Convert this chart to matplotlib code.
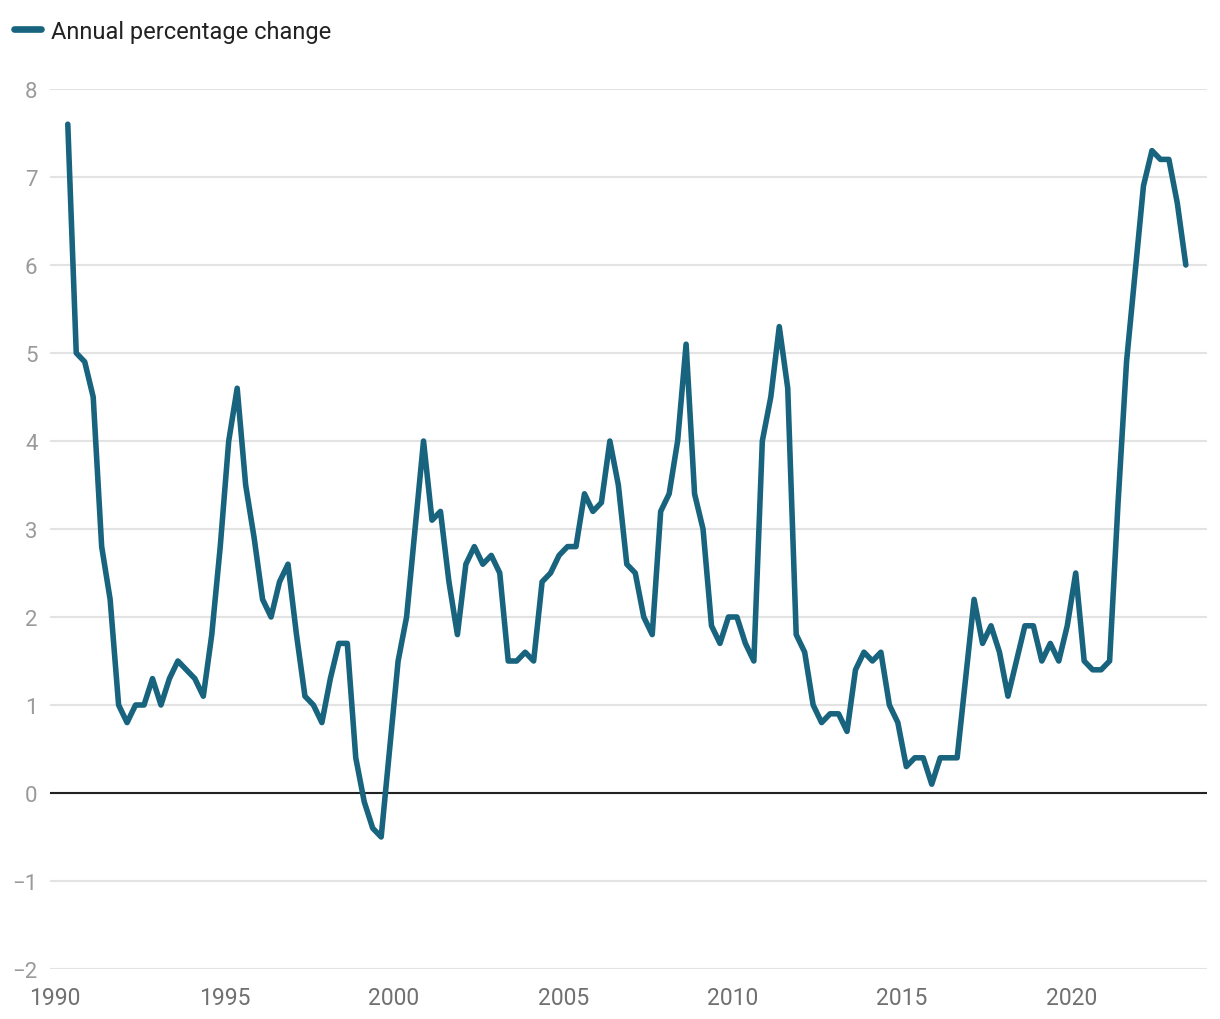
import matplotlib
matplotlib.use("Agg")
import matplotlib.pyplot as plt

# Quarterly data, first quarter 1990 Q2, last quarter 2023 Q2
start_year = 1990.375
values = [
    7.6, 5.0, 4.9, 4.5, 2.8, 2.2, 1.0, 0.8, 1.0, 1.0,
    1.3, 1.0, 1.3, 1.5, 1.4, 1.3, 1.1, 1.8, 2.8, 4.0,
    4.6, 3.5, 2.9, 2.2, 2.0, 2.4, 2.6, 1.8, 1.1, 1.0,
    0.8, 1.3, 1.7, 1.7, 0.4, -0.1, -0.4, -0.5, 0.5, 1.5,
    2.0, 3.0, 4.0, 3.1, 3.2, 2.4, 1.8, 2.6, 2.8, 2.6,
    2.7, 2.5, 1.5, 1.5, 1.6, 1.5, 2.4, 2.5, 2.7, 2.8,
    2.8, 3.4, 3.2, 3.3, 4.0, 3.5, 2.6, 2.5, 2.0, 1.8,
    3.2, 3.4, 4.0, 5.1, 3.4, 3.0, 1.9, 1.7, 2.0, 2.0,
    1.7, 1.5, 4.0, 4.5, 5.3, 4.6, 1.8, 1.6, 1.0, 0.8,
    0.9, 0.9, 0.7, 1.4, 1.6, 1.5, 1.6, 1.0, 0.8, 0.3,
    0.4, 0.4, 0.1, 0.4, 0.4, 0.4, 1.3, 2.2, 1.7, 1.9,
    1.6, 1.1, 1.5, 1.9, 1.9, 1.5, 1.7, 1.5, 1.9, 2.5,
    1.5, 1.4, 1.4, 1.5, 3.3, 4.9, 5.9, 6.9, 7.3, 7.2,
    7.2, 6.7, 6.0,
]
years = [start_year + 0.25 * i for i in range(len(values))]

x_ticks = [1990, 1995, 2000, 2005, 2010, 2015, 2020]
y_ticks = [-2, -1, 0, 1, 2, 3, 4, 5, 6, 7, 8]
label = "Annual percentage change"

plt.rcParams["font.family"] = ["Roboto", "DejaVu Sans"]

fig = plt.figure(figsize=(12.2, 10.2), dpi=100)
ax = fig.add_axes([50 / 1220, 50 / 1020, 1157 / 1220, 880 / 1020])

line, = ax.plot(years, values, color="#18637e", linewidth=4.0,
                solid_joinstyle="round", solid_capstyle="round",
                label=label, zorder=3)

ax.set_xlim(1989.85, 2024.0)
ax.set_ylim(-2, 8)
ax.set_xticks(x_ticks)
ax.set_yticks(y_ticks)
ax.set_yticklabels([str(v).replace("-", "\u2212") for v in y_ticks])

for s in ax.spines.values():
    s.set_visible(False)

ax.grid(axis="y", color="#e3e3e3", linewidth=1.5, zorder=0)
ax.grid(axis="x", visible=False)
ax.axhline(0, color="#222222", linewidth=1.5, zorder=2)

ax.tick_params(axis="y", length=0, pad=9, labelsize=16, labelcolor="#9a9a9a")
ax.tick_params(axis="x", length=0, pad=12, labelsize=16.5, labelcolor="#707070")

leg = ax.legend(handles=[line], loc="center left",
                bbox_to_anchor=(14 / 1220, 1 - 32 / 1020),
                bbox_transform=fig.transFigure, frameon=False,
                fontsize=17, handlelength=1.15, handletextpad=0.4,
                borderaxespad=0, borderpad=0, labelcolor="#222222")
for h in leg.legend_handles:
    h.set_linewidth(4.8)

fig.savefig("out.png", dpi=100, facecolor="white")
